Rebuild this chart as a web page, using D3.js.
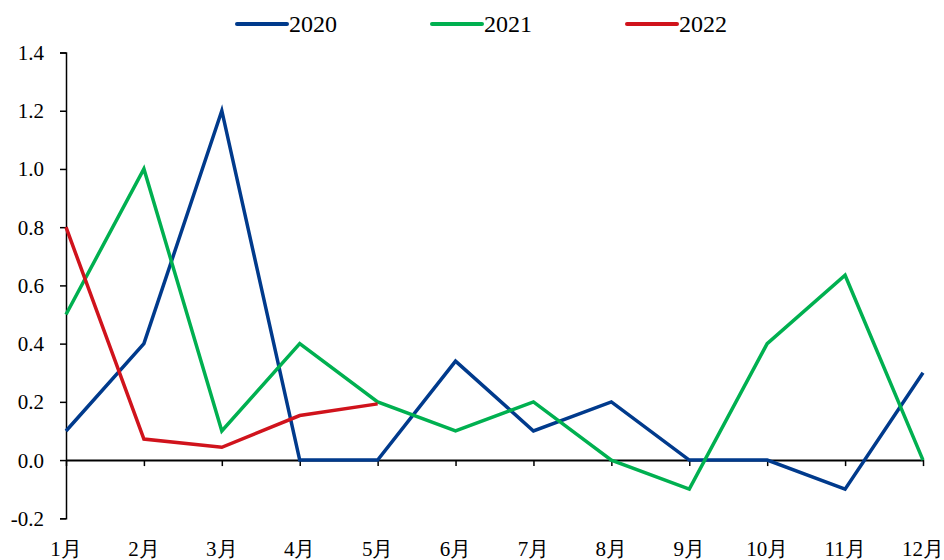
<!DOCTYPE html>
<html>
<head>
<meta charset="utf-8">
<script src="https://cdn.jsdelivr.net/npm/d3@7"></script>
<style>
  body { margin: 0; background: #fff; }
  svg text { font-family: "Times New Roman", "Liberation Serif", "DejaVu Serif", serif; }
</style>
</head>
<body>
<script>
var width = 944;
var height = 560;

var months = ["1月", "2月", "3月", "4月", "5月", "6月", "7月", "8月", "9月", "10月", "11月", "12月"];
var yTicks = [-0.2, 0.0, 0.2, 0.4, 0.6, 0.8, 1.0, 1.2, 1.4];
var seriesNames = ["2020", "2021", "2022"];
var colors = ["#003a8c", "#00b050", "#d0131c"];

var values2020 = [0.1, 0.4, 1.2, 0, 0, 0.34, 0.1, 0.2, 0, 0, -0.1, 0.3];
var values2021 = [0.5, 1.0, 0.1, 0.4, 0.2, 0.1, 0.2, 0, -0.1, 0.4, 0.635, 0];
var values2022 = [0.8, 0.072, 0.044, 0.153, 0.193];

var allSeries = [values2020, values2021, values2022];

var svg = d3.select("body").append("svg").attr("width", width).attr("height", height);

var x = d3.scalePoint().domain(months).range([66, 923]);
var y = d3.scaleLinear().domain([-0.2, 1.4]).range([518.3, 52.5]);

// y axis
var yAxis = svg.append("g")
    .attr("transform", "translate(66,0)")
    .call(d3.axisLeft(y).tickValues(yTicks).tickSize(6).tickSizeOuter(6)
        .tickFormat(function (d) { return d.toFixed(1); }));
yAxis.attr("font-family", null);
yAxis.select(".domain").attr("stroke", "#000").attr("stroke-width", 1.5);
yAxis.selectAll(".tick line").attr("stroke", "#000").attr("stroke-width", 1.5);
yAxis.selectAll(".tick text")
    .attr("x", -22)
    .attr("dy", "0.33em")
    .attr("fill", "#000")
    .style("font-size", "21px");

// zero line with month ticks
var xAxis = svg.append("g")
    .attr("transform", "translate(0," + y(0) + ")")
    .call(d3.axisBottom(x).tickSize(6).tickSizeOuter(0).tickFormat(""));
xAxis.select(".domain").attr("stroke", "#000").attr("stroke-width", 2);
xAxis.selectAll(".tick line").attr("stroke", "#000").attr("stroke-width", 1.5);

// month labels along bottom
svg.append("g").selectAll("text")
    .data(months)
    .enter()
    .append("text")
    .attr("x", function (d) { return x(d); })
    .attr("y", 556)
    .attr("text-anchor", "middle")
    .attr("fill", "#000")
    .style("font-size", "21px")
    .text(function (d) { return d; });

var line = d3.line()
    .x(function (d, i) { return x(months[i]); })
    .y(function (d) { return y(d); });

svg.append("g").selectAll("path")
    .data(allSeries)
    .enter()
    .append("path")
    .attr("d", line)
    .attr("fill", "none")
    .attr("stroke", function (d, i) { return colors[i]; })
    .attr("stroke-width", 3.5)
    .attr("stroke-linejoin", "miter");

// legend
var legend = svg.append("g").selectAll("g")
    .data(seriesNames)
    .enter()
    .append("g")
    .attr("transform", function (d, i) { return "translate(" + (237 + i * 195) + ",24)"; });
legend.append("line")
    .attr("x1", 0).attr("x2", 50)
    .attr("stroke", function (d, i) { return colors[i]; })
    .attr("stroke-width", 4)
    .attr("stroke-linecap", "round");
legend.append("text")
    .attr("x", 52)
    .attr("dy", "0.33em")
    .attr("fill", "#000")
    .style("font-size", "24px")
    .text(function (d) { return d; });
</script>
</body>
</html>
